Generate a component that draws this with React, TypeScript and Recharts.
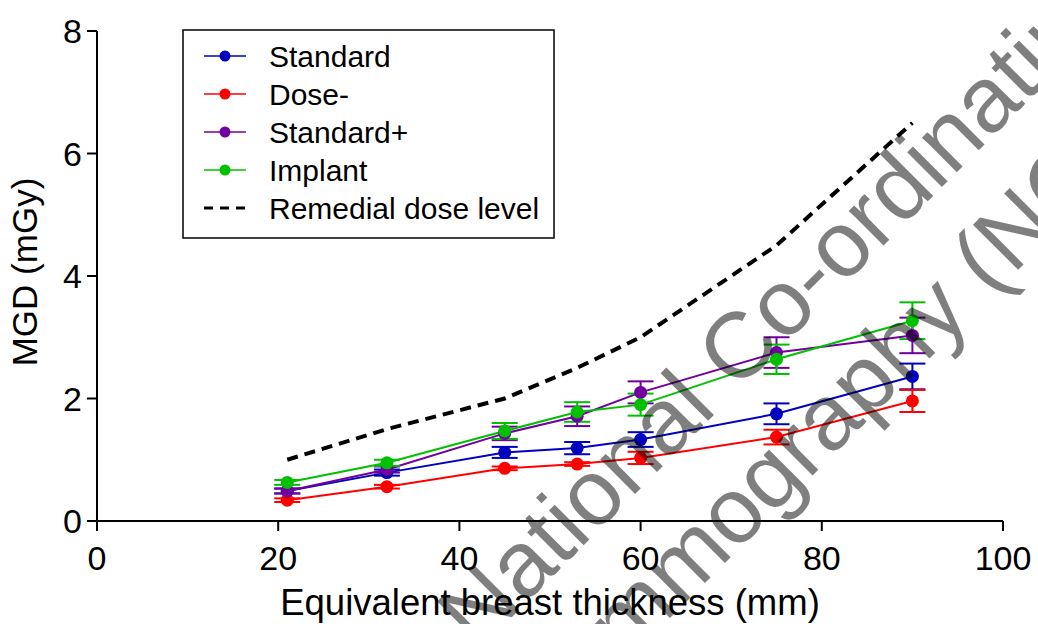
import React from "react";
import { LineChart, Line, XAxis, YAxis, ErrorBar, Legend } from "recharts";

const thickness = [21, 32, 45, 53, 60, 75, 90];
const standard = [0.49, 0.79, 1.12, 1.19, 1.33, 1.75, 2.36];
const standardErr = [0.04, 0.05, 0.09, 0.1, 0.12, 0.17, 0.21];
const doseMinus = [0.34, 0.56, 0.86, 0.93, 1.03, 1.37, 1.96];
const doseMinusErr = [0.03, 0.03, 0.03, 0.03, 0.1, 0.12, 0.18];
const standardPlus = [0.49, 0.84, 1.43, 1.71, 2.1, 2.75, 3.03];
const standardPlusErr = [0.04, 0.05, 0.11, 0.16, 0.18, 0.25, 0.29];
const implant = [0.63, 0.95, 1.47, 1.78, 1.9, 2.64, 3.27];
const implantErr = [0.04, 0.05, 0.13, 0.16, 0.18, 0.24, 0.3];
const remedial = [1.0, 1.5, 2.0, 2.5, 3.0, 4.5, 6.5];

const xTicks = [0, 20, 40, 60, 80, 100];
const yTicks = [0, 2, 4, 6, 8];

const seriesNames = ["Standard", "Dose-", "Standard+", "Implant", "Remedial dose level"];
const seriesColors = ["#0000C0", "#FF0000", "#7000A0", "#00C000", "#000000"];

const watermarkLines = ["National Co-ordinating Centre", "Mammography (NCCPM)"];

const data = thickness.map((t, i) => ({
  x: t,
  standard: standard[i],
  standardErr: standardErr[i],
  dose: doseMinus[i],
  doseErr: doseMinusErr[i],
  plus: standardPlus[i],
  plusErr: standardPlusErr[i],
  implant: implant[i],
  implantErr: implantErr[i],
  remedial: remedial[i],
}));

const FONT = "'Liberation Sans', Arial, sans-serif";

const LegendBox = () => (
  <svg width={373} height={210} style={{ display: "block" }}>
    <rect x={1} y={1} width={371} height={208} fill="#fff" stroke="#000" strokeWidth={1.5} />
    {seriesNames.map((name, i) => {
      const cy = 27 + i * 38;
      const c = seriesColors[i];
      const dashed = i === 4;
      return (
        <g key={name}>
          {dashed ? (
            <line x1={22} x2={64} y1={cy} y2={cy} stroke={c} strokeWidth={3} strokeDasharray="9 7" />
          ) : (
            <>
              <line x1={22} x2={64} y1={cy} y2={cy} stroke={c} strokeWidth={1.5} />
              <circle cx={43} cy={cy} r={5.5} fill={c} />
            </>
          )}
          <text x={87} y={cy + 10.5} fontSize={30} fontFamily={FONT} fill="#000">
            {name}
          </text>
        </g>
      );
    })}
  </svg>
);

const series = [
  { key: "standard", err: "standardErr", color: seriesColors[0] },
  { key: "dose", err: "doseErr", color: seriesColors[1] },
  { key: "plus", err: "plusErr", color: seriesColors[2] },
  { key: "implant", err: "implantErr", color: seriesColors[3] },
];

export default function App() {
  return (
    <div style={{ position: "absolute", left: 0, top: 0, width: 1038, height: 624, background: "#fff", overflow: "hidden" }}>
      <LineChart
        width={1038}
        height={624}
        data={data}
        margin={{ top: 31, right: 35, bottom: 43, left: 0 }}
        style={{ fontFamily: FONT }}
      >
        <XAxis
          dataKey="x"
          type="number"
          domain={[0, 100]}
          ticks={xTicks}
          height={60}
          tickSize={10}
          tickMargin={15}
          axisLine={{ stroke: "#000", strokeWidth: 2 }}
          tickLine={{ stroke: "#000", strokeWidth: 2 }}
          tick={{ fontSize: 34, fill: "#000", fontFamily: FONT }}
          label={(props: any) => {
            const vb = props.viewBox || { x: 97, y: 521, width: 906 };
            return (
              <text x={vb.x + vb.width / 2} y={vb.y + 94} textAnchor="middle" fontSize={36.5} fontFamily={FONT} fill="#000">
                Equivalent breast thickness (mm)
              </text>
            );
          }}
        />
        <YAxis
          type="number"
          domain={[0, 8]}
          ticks={yTicks}
          width={97}
          tickSize={10}
          tickMargin={5}
          axisLine={{ stroke: "#000", strokeWidth: 2 }}
          tickLine={{ stroke: "#000", strokeWidth: 2 }}
          tick={{ fontSize: 34, fill: "#000", fontFamily: FONT }}
          label={(props: any) => {
            const vb = props.viewBox || { x: 0, y: 31, height: 490 };
            const cy = vb.y + vb.height / 2 - 4;
            return (
              <text x={37} y={cy} transform={`rotate(-90, 37, ${cy})`} textAnchor="middle" fontSize={35} fontFamily={FONT} fill="#000">
                MGD (mGy)
              </text>
            );
          }}
        />
        <Legend
          layout="horizontal"
          align="center"
          verticalAlign="middle"
          content={() => <LegendBox />}
          wrapperStyle={{ position: "absolute", left: 182, top: 29, width: 373, height: 210 }}
        />
        <Line
          dataKey="remedial"
          stroke="#000"
          strokeWidth={4}
          strokeDasharray="11 7"
          dot={false}
          activeDot={false}
          isAnimationActive={false}
          type="linear"
        />
        {series.map((s) => (
          <Line
            key={s.key}
            dataKey={s.key}
            stroke={s.color}
            strokeWidth={2}
            type="linear"
            dot={{ r: 6.5, fill: s.color, stroke: "none" }}
            activeDot={false}
            isAnimationActive={false}
          >
            <ErrorBar dataKey={s.err} direction="y" width={13} strokeWidth={2} stroke={s.color} />
          </Line>
        ))}
      </LineChart>
      <svg
        width={1038}
        height={624}
        style={{ position: "absolute", left: 0, top: 0, pointerEvents: "none" }}
      >
        <text x={477} y={652} transform="rotate(-45, 477, 652)" fontSize={93} fontFamily={FONT} fill="#000" fillOpacity={0.5}>
          {watermarkLines[0]}
        </text>
        <text x={534} y={754} transform="rotate(-45, 534, 754)" fontSize={93} fontFamily={FONT} fill="#000" fillOpacity={0.5}>
          {watermarkLines[1]}
        </text>
      </svg>
    </div>
  );
}
